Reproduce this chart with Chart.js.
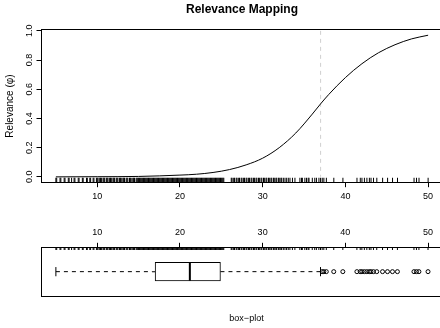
<!DOCTYPE html>
<html>
<head>
<meta charset="utf-8">
<script src="https://cdn.jsdelivr.net/npm/chart.js@4.4.1/dist/chart.umd.min.js"></script>
<style>
  html, body { margin: 0; padding: 0; background: #fff; overflow: hidden; width: 440px; height: 328px; }
  canvas { position: absolute; left: 0; }
  #top { top: 0; }
  #box { top: 205px; }
</style>
</head>
<body>
<canvas id="top" width="443" height="205"></canvas>
<canvas id="box" width="452" height="123"></canvas>
<script>
// tick labels
const xTicks = [10, 20, 30, 40, 50];
const yTicks = [0, 0.2, 0.4, 0.6, 0.8, 1.0];

// relevance curve
const curveX = [5, 10, 15, 20, 22, 24, 26, 28, 30, 32, 34, 36, 37, 38, 40, 42, 44, 46, 48, 50];
const curveY = [0.0, 0.001, 0.003, 0.012, 0.018, 0.03, 0.05, 0.082, 0.128, 0.2, 0.3, 0.43, 0.5, 0.565, 0.68, 0.775, 0.85, 0.905, 0.945, 0.97];

// threshold (dashed grey line)
const thresholdX = [37];

// observations, drawn as rug in both panels
const rugValues = [
  5.0, 5.1, 5.5, 5.6, 6.0, 6.1, 6.5, 6.6, 6.9, 7.2, 7.3, 7.7, 7.8, 8.2, 8.3, 8.7, 8.8, 9.1, 9.2, 9.5, 9.6, 9.9,
  10.0, 10.1, 10.3, 10.4, 10.5, 10.7, 10.8, 10.9, 11.1, 11.2, 11.3, 11.5, 11.6, 11.7, 11.9, 12.0, 12.1,
  12.3, 12.4, 12.5, 12.7, 12.8, 12.9, 13.1, 13.2, 13.3, 13.5, 13.6, 13.7, 13.9, 14.0, 14.1,
  14.3, 14.4, 14.5, 14.7, 14.8, 14.9,
  15.0, 15.1, 15.2, 15.3, 15.4, 15.5, 15.6, 15.7, 15.8, 15.9, 16.0, 16.1, 16.2, 16.3, 16.4, 16.5, 16.6, 16.7, 16.8, 16.9,
  17.0, 17.1, 17.2, 17.3, 17.4, 17.5, 17.6, 17.7, 17.8, 17.9, 18.0, 18.1, 18.2, 18.3, 18.4, 18.5, 18.6, 18.7, 18.8, 18.9,
  19.0, 19.1, 19.2, 19.3, 19.4, 19.5, 19.6, 19.7, 19.8, 19.9, 20.0, 20.1, 20.2, 20.3, 20.4, 20.5, 20.6, 20.7, 20.8, 20.9,
  21.0, 21.1, 21.2, 21.3, 21.4, 21.5, 21.6, 21.7, 21.8, 21.9, 22.0, 22.1, 22.2, 22.3, 22.4, 22.5, 22.6, 22.7, 22.8, 22.9,
  23.0, 23.1, 23.2, 23.3, 23.4, 23.5, 23.6, 23.7, 23.8, 23.9, 24.0, 24.1, 24.2, 24.3, 24.4, 24.5, 24.6, 24.7, 24.8, 24.9,
  25.0, 25.1, 25.2, 25.3,
  26.2, 26.3, 26.5, 26.6, 26.8, 26.9, 27.1, 27.2, 27.4, 27.5, 27.7, 27.8, 28.0, 28.1, 28.3, 28.4, 28.6, 28.7, 28.9,
  29.0, 29.2, 29.3, 29.5, 29.6, 29.8, 29.9, 30.1, 30.2, 30.4, 30.5, 30.7, 30.8, 31.0, 31.1, 31.3, 31.4, 31.6, 31.7, 31.9,
  32.0, 32.2, 32.3, 32.5, 32.7, 32.9, 33.1, 33.3, 33.6, 33.9,
  34.5, 34.7, 34.8, 35.1, 35.3, 35.5, 35.6, 36.0, 36.3, 36.5, 36.8, 37.0,
  37.2, 37.4, 37.7, 38.6, 39.7, 41.4, 41.8, 42.0, 42.3, 42.6, 42.9, 43.1, 43.4, 43.8,
  44.5, 45.1, 45.7, 46.3, 48.3, 48.6, 48.9, 50.0
];

// box-plot: lower whisker, Q1, median, Q3, upper whisker
const boxStats = [5.0, 17.0, 21.2, 24.9, 37.0];
const outlierValues = [37.2, 37.4, 37.7, 38.6, 39.7, 41.4, 41.8, 42.0, 42.3, 42.6, 42.9, 43.1, 43.4, 43.8,
  44.5, 45.1, 45.7, 46.3, 48.3, 48.6, 48.9, 50.0];

Chart.defaults.font.family = '"Liberation Sans", Arial, sans-serif';
Chart.defaults.color = '#000';

// the plot region runs a little past the right edge of the window
const X_MIN = 3.2, X_MAX = 51.8;
const X_MAX_BOX = 52.9; // wider canvas below, same px per unit
const ink = '#000';

function fixedTicks(values) {
  return (scale) => { scale.ticks = values.map(v => ({ value: v })); };
}

const tickGrid = { display: true, drawOnChartArea: false, drawTicks: true, tickLength: 4.5, color: ink };
const noPlugins = { legend: { display: false }, tooltip: { enabled: false } };

// --- top panel: relevance curve ---
new Chart(document.getElementById('top'), {
  type: 'scatter',
  data: {
    datasets: [
      {
        type: 'line',
        data: curveX.map((x, i) => ({ x: x, y: curveY[i] })),
        borderColor: ink, borderWidth: 1, pointRadius: 0,
        cubicInterpolationMode: 'monotone', fill: false
      },
      {
        type: 'line',
        data: [{ x: thresholdX[0], y: 1 }, { x: thresholdX[0], y: 0 }],
        borderColor: '#d0d0d0', borderWidth: 1, borderDash: [4, 4], pointRadius: 0
      },
      {
        data: rugValues.map(x => ({ x: x, y: -0.023 })),
        pointStyle: 'line', rotation: 90, radius: 2.45,
        borderColor: ink, borderWidth: 1
      }
    ]
  },
  options: {
    responsive: false, animation: false, devicePixelRatio: 1,
    layout: { padding: 0, autoPadding: false },
    plugins: {
      ...noPlugins,
      title: {
        display: true, text: 'Relevance Mapping', fullSize: false,
        font: { size: 12, weight: 'bold' }, padding: { top: 2.8, bottom: 12.2 }
      }
    },
    scales: {
      x: {
        type: 'linear', position: 'bottom', min: X_MIN, max: X_MAX,
        afterBuildTicks: fixedTicks(xTicks),
        afterFit: s => { s.height = 22.3; },
        grid: tickGrid, border: { display: true, color: ink },
        ticks: { font: { size: 9 }, padding: 4.1, maxRotation: 0, autoSkip: false }
      },
      x2: {
        type: 'linear', position: 'top', min: X_MIN, max: X_MAX,
        afterFit: s => { s.height = 0; },
        grid: { display: false }, ticks: { display: false },
        border: { display: true, color: ink }
      },
      y: {
        type: 'linear', min: -0.04, max: 1.01,
        afterBuildTicks: fixedTicks(yTicks),
        afterFit: s => { s.width = 41; },
        grid: tickGrid, border: { display: true, color: ink },
        ticks: {
          font: { size: 9 }, padding: 0.5, minRotation: 90, maxRotation: 90,
          crossAlign: 'center', autoSkip: false, callback: v => v.toFixed(1)
        },
        title: { display: true, text: 'Relevance (φ)', font: { size: 10 }, padding: { top: 4, bottom: 0 } }
      }
    }
  }
});

// --- bottom panel: box-plot ---
new Chart(document.getElementById('box'), {
  type: 'scatter',
  data: {
    datasets: [
      { // median
        data: [{ x: boxStats[2], y: 0 }],
        pointStyle: 'line', rotation: 90, radius: 9.2, borderColor: ink, borderWidth: 2
      },
      { // whisker caps
        data: [{ x: boxStats[0], y: 0 }, { x: boxStats[4], y: 0 }],
        pointStyle: 'line', rotation: 90, radius: 4.6, borderColor: ink, borderWidth: 1
      },
      { // outliers
        data: outlierValues.map(x => ({ x: x, y: 0 })),
        pointStyle: 'circle', radius: 2, borderColor: ink, backgroundColor: 'rgba(0,0,0,0)', borderWidth: 1
      },
      { // box
        type: 'bar', indexAxis: 'y',
        data: [{ x: [boxStats[1], boxStats[3]], y: 0 }],
        backgroundColor: '#fff', borderColor: ink, borderWidth: 1, borderSkipped: false,
        barThickness: 18.4
      },
      { // whiskers
        type: 'line',
        data: [{ x: boxStats[0], y: 0 }, { x: boxStats[1], y: 0 }],
        borderColor: ink, borderWidth: 1, borderDash: [4, 4], pointRadius: 0
      },
      {
        type: 'line',
        data: [{ x: boxStats[3], y: 0 }, { x: boxStats[4], y: 0 }],
        borderColor: ink, borderWidth: 1, borderDash: [4, 4], pointRadius: 0
      },
      { // rug along the top
        data: rugValues.map(x => ({ x: x, y: 0.944 })),
        pointStyle: 'line', rotation: 90, radius: 1.35, borderColor: ink, borderWidth: 1
      }
    ]
  },
  options: {
    responsive: false, animation: false, devicePixelRatio: 1,
    layout: { padding: 0, autoPadding: false },
    plugins: noPlugins,
    scales: {
      x: {
        type: 'linear', position: 'top', min: X_MIN, max: X_MAX_BOX,
        afterBuildTicks: fixedTicks(xTicks),
        afterFit: s => { s.height = 42.3; },
        grid: tickGrid, border: { display: true, color: ink },
        ticks: { font: { size: 9 }, padding: 4.7, maxRotation: 0, autoSkip: false }
      },
      xb: {
        type: 'linear', position: 'bottom', min: X_MIN, max: X_MAX_BOX,
        afterFit: s => { s.height = 32; },
        grid: { display: false }, ticks: { display: false },
        border: { display: true, color: ink },
        title: { display: true, text: 'box−plot', font: { size: 9 }, padding: { top: 0, bottom: 3.6 } }
      },
      y: {
        type: 'linear', min: -1, max: 1, offset: false,
        afterFit: s => { s.width = 41; },
        grid: { display: false }, ticks: { display: false },
        border: { display: true, color: ink }
      }
    }
  }
});
</script>
</body>
</html>
